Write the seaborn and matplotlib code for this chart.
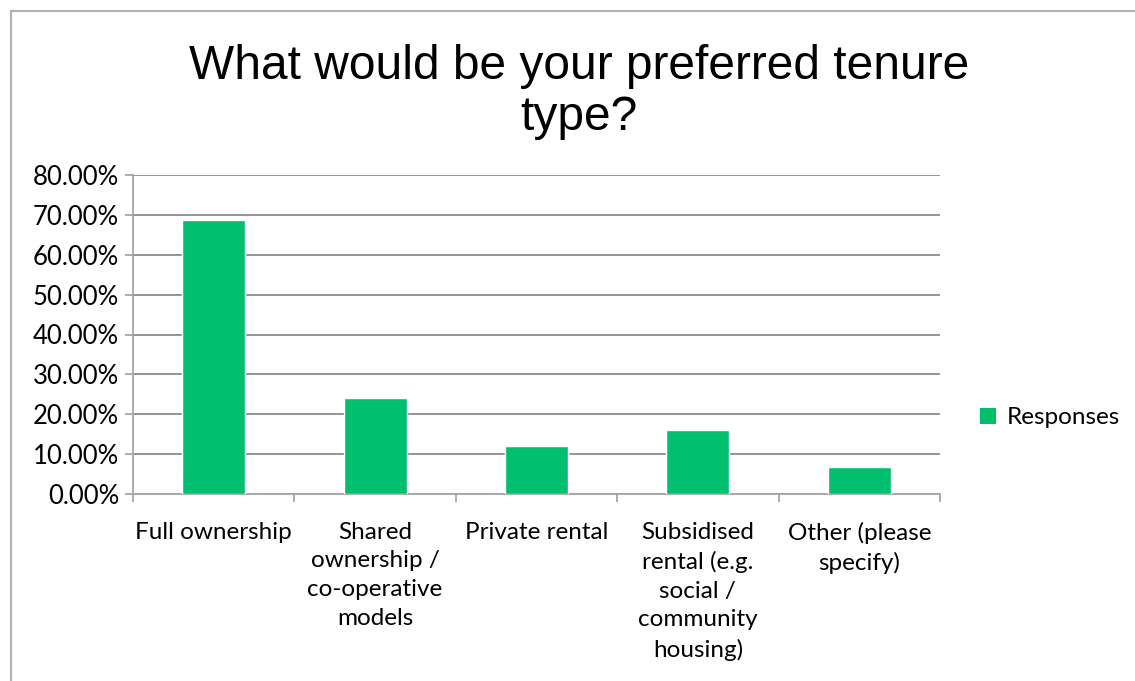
import matplotlib
matplotlib.use("Agg")
import matplotlib.pyplot as plt
import matplotlib.ticker as mticker
from matplotlib.lines import Line2D
from matplotlib.patches import Patch
import seaborn as sns

# Survey results: preferred tenure type (share of respondents)
categories = [
    "Full ownership",
    "Shared ownership / co-operative models",
    "Private rental",
    "Subsidised rental (e.g. social / community housing)",
    "Other (please specify)",
]
tick_labels = [
    "Full ownership",
    "Shared\nownership /\nco-operative\nmodels",
    "Private rental",
    "Subsidised\nrental (e.g.\nsocial /\ncommunity\nhousing)",
    "Other (please\nspecify)",
]
responses = [0.687, 0.242, 0.120, 0.160, 0.067]
y_ticks = [0.0, 0.1, 0.2, 0.3, 0.4, 0.5, 0.6, 0.7, 0.8]

BAR_COLOR = "#00BF6F"
GRID_COLOR = "#8C8C8C"
AXIS_COLOR = "#A6A6A6"

sns.set_theme(style="white")
plt.rcParams["font.family"] = ["Lato", "DejaVu Sans"]
plt.rcParams["text.color"] = "black"

fig = plt.figure(figsize=(11.35, 6.81), dpi=100)
ax = fig.add_axes([133 / 1135, 1 - 494 / 681, (940 - 133) / 1135, (494 - 175) / 681])

sns.barplot(x=categories, y=responses, color=BAR_COLOR, width=0.39,
            saturation=1, ax=ax, zorder=3)

ax.set_ylim(0, 0.8)
ax.set_xlim(-0.5, len(categories) - 0.5)
ax.set_yticks(y_ticks)
ax.yaxis.set_major_formatter(mticker.FuncFormatter(lambda v, _: f"{v * 100:.2f}%"))
ax.set_xticks(range(len(categories)))
ax.set_xticklabels(tick_labels, linespacing=1.45, va="top")
ax.set_xticks([i - 0.5 for i in range(len(categories) + 1)], minor=True)
ax.set_xlabel("")
ax.set_ylabel("")

ax.grid(axis="y", color=GRID_COLOR, linewidth=1.3, zorder=0)
ax.set_axisbelow(True)

for side in ("top", "right"):
    ax.spines[side].set_visible(False)
ax.spines["left"].set_color(AXIS_COLOR)
ax.spines["left"].set_linewidth(1.3)
ax.spines["bottom"].set_color(AXIS_COLOR)
ax.spines["bottom"].set_linewidth(1.3)

ax.tick_params(axis="y", which="major", left=True, length=6, width=1.3,
               color=AXIS_COLOR, labelsize=18.5, labelcolor="black", pad=4)
ax.tick_params(axis="x", which="major", bottom=False, labelsize=17.5,
               labelcolor="black", pad=14)
ax.tick_params(axis="x", which="minor", bottom=True, length=6, width=1.3,
               color=AXIS_COLOR)

fig.text(579 / 1135, 1 - 92 / 681, "What would be your preferred tenure\ntype?",
         ha="center", va="center", fontsize=34.5, linespacing=1.17,
         color="black", family=["Liberation Sans", "DejaVu Sans"])

handle = Patch(facecolor=BAR_COLOR, edgecolor="none")
fig.legend([handle], ["Responses"], loc="center left",
           bbox_to_anchor=(980 / 1135, 1 - 418 / 681), frameon=False,
           fontsize=17.5, handlelength=0.65, handleheight=0.65,
           handletextpad=0.45, borderpad=0, borderaxespad=0)

# Chart frame (left and top edges)
frame_kw = dict(color="#B0B0B0", linewidth=1.5, transform=fig.transFigure)
fig.add_artist(Line2D([11 / 1135, 11 / 1135], [0, 1 - 11 / 681], **frame_kw))
fig.add_artist(Line2D([11 / 1135, 1], [1 - 11 / 681, 1 - 11 / 681], **frame_kw))

fig.savefig("out.png", dpi=100, facecolor="white")
